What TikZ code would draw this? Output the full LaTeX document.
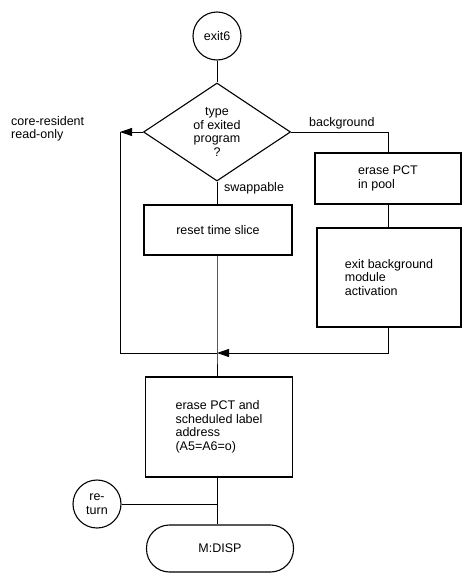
\documentclass[tikz,border=0pt]{standalone}
\usepackage{fontspec}
\setmainfont{Liberation Sans}
\usetikzlibrary{shapes.geometric,arrows.meta}
\begin{document}
\begin{tikzpicture}[x=1pt,y=-1pt,
  every node/.style={font=\fontsize{12.5}{13.5}\selectfont},
  proc/.style={draw,line width=1.1pt,inner sep=0pt},
  term/.style={draw,circle,line width=1.1pt,minimum size=48pt,inner sep=0pt,align=center},
  link/.style={line width=0.85pt},
  tip/.style={-{Triangle[length=12pt,width=8pt]}},
  lbl/.style={align=left,inner sep=0pt}]
\useasboundingbox (0,0) rectangle (461,573);

% main column
\node[term] (exit) at (217,36) {exit6};
\node[proc,diamond,aspect=1.5,minimum width=147pt,minimum height=98pt,align=center] (dec) at (217,132) {type\\of exited\\program\\?};
\node[proc,minimum width=148pt,minimum height=50pt] (reset) at (218,230) {reset time slice};
\node[proc,minimum width=147pt,minimum height=100pt,align=left] (erase) at (219,427) {erase PCT and\\scheduled label\\address\\(A5=A6=o)};
\node[term] (ret) at (97,504) {re-\\turn};
\node[proc,rounded corners=23pt,minimum width=147pt,minimum height=47pt] (disp) at (220,548.5) {M:DISP};

% background branch
\node[proc,minimum width=146pt,minimum height=51pt,align=left] (pool) at (388,178.5) {erase PCT\\in pool};
\node[proc,minimum width=144pt,minimum height=99pt,align=left] (bgx) at (389,277.5) {exit background\\module\\activation};

% branch labels
\node[lbl,anchor=west] (cr) at (11,129) {core-resident\\read-only};
\node[lbl,anchor=base west] (bg) at (309,126) {background};
\node[lbl,anchor=base west] (sw) at (224,191) {swappable};

% routing points
\coordinate (cl) at (120,132);
\coordinate (cb) at (120,353);
\coordinate (j)  at (217,353);
\coordinate (rt) at (388,132);
\coordinate (rb) at (388,353);

% connectors
\draw[link] (exit) -- (dec);
\draw[link] (dec.south) -- (dec.south |- reset.north);
\draw[link] (reset.south -| j) -- (j) -- (j |- erase.north);
\draw[link,tip] (dec.west) -- (cl);
\draw[link] (cl) -- (cb) -- (j);
\draw[link] (dec.east) -- (rt) -- (rt |- pool.north);
\draw[link] (pool.south) -- (pool.south |- bgx.north);
\draw[link,tip] (bgx.south -| rb) -- (rb) -- (j);
\draw[link] (erase.south -| j) -- (j |- disp.north);
\draw[link] (ret.east) -- (ret.east -| j);
\end{tikzpicture}
\end{document}
